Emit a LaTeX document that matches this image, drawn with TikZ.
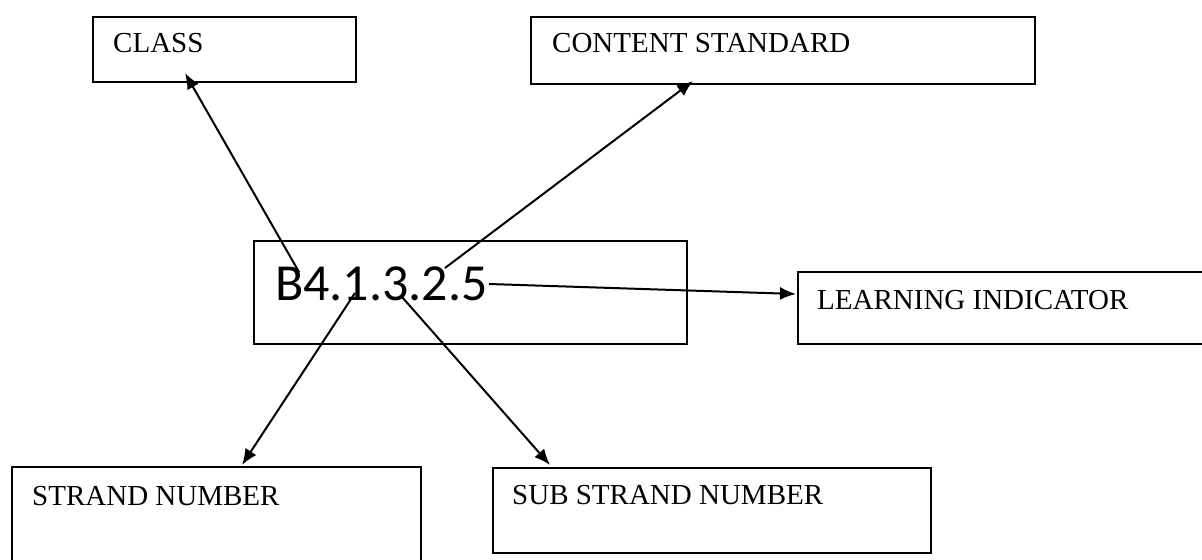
\documentclass[tikz,border=0pt]{standalone}
\usepackage{fontspec}
\setmainfont{Liberation Serif}
\newfontfamily\calfont{Carlito}
\usetikzlibrary{arrows.meta}
\tikzset{
  box/.style={draw, line width=2bp, rectangle, inner sep=0pt, anchor=north west},
  lbl/.style={inner sep=0pt, anchor=base west, font=\fontsize{29bp}{34bp}\selectfont},
  code/.style={inner sep=0pt, anchor=base west, font=\calfont\fontsize{52bp}{60bp}\selectfont},
  arr/.style={line width=2bp, -{Latex[length=16bp,width=13bp]}}
}
\begin{document}
\begin{tikzpicture}[x=1bp,y=-1bp]
\useasboundingbox (0,0) rectangle (1202,560);
\fill[white] (0,0) rectangle (1202,560);
% boxes
\node[box, minimum width=263bp, minimum height=65bp] (cls) at (92,16) {};
\node[box, minimum width=504bp, minimum height=67bp] (cs) at (530,16) {};
\node[box, minimum width=433bp, minimum height=103bp] (ctr) at (253,240) {};
\node[box, minimum width=420bp, minimum height=72bp] (li) at (797,271) {};
\node[box, minimum width=409bp, minimum height=110bp] (sn) at (11,466) {};
\node[box, minimum width=438bp, minimum height=85bp] (ssn) at (492,467) {};
% texts
\node[lbl] (clsT) at (113,53) {CLASS};
\node[lbl] (csT) at (552,53) {CONTENT STANDARD};
\node[lbl] (liT) at (817,310) {LEARNING INDICATOR};
\node[lbl] (snT) at (32,505) {STRAND NUMBER};
\node[lbl] (ssnT) at (512,504) {SUB STRAND NUMBER};
\node[code] (code) at (275,301) {B4.1.3.2.5};
% connector ends
\coordinate (s1) at (299,272);
\coordinate (t1) at (185,73);
\coordinate (s2) at (445,268);
\coordinate (t2) at (693,81);
\coordinate (s3) at (489,284);
\coordinate (t3) at (796,294);
\coordinate (s4) at (355,293);
\coordinate (t4) at (242,465);
\coordinate (s5) at (402,297);
\coordinate (t5) at (550,465);
% connectors
\draw[arr] (s1) -- (t1);
\draw[arr] (s2) -- (t2);
\draw[arr] (s3) -- (t3);
\draw[arr] (s4) -- (t4);
\draw[arr] (s5) -- (t5);
\end{tikzpicture}
\end{document}
